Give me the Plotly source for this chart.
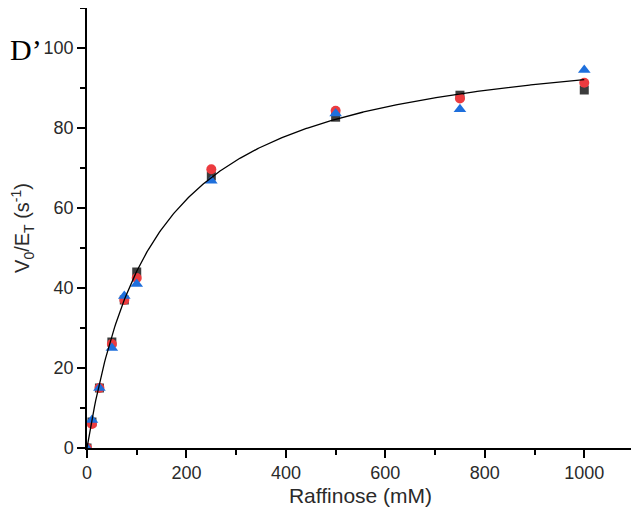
import plotly.graph_objects as go
import numpy as np

conc = [0, 10, 25, 50, 75, 100, 250, 500, 750, 1000]
rep1 = [0, 6.5, 15, 26.5, 37, 44, 68, 82.7, 88.2, 89.5]
rep2 = [0, 6, 15, 26, 37, 42.5, 69.7, 84.3, 87.4, 91.3]
rep3 = [0, 7, 15, 25, 38, 41, 66.8, 83.6, 84.7, 94.5]

vmax = 104.7
km = 137

x_ticks = [0, 200, 400, 600, 800, 1000]
y_ticks = [0, 20, 40, 60, 80, 100]

fit_x = np.linspace(0, 1000, 400)
fit_y = vmax * fit_x / (km + fit_x)

fig = go.Figure()
fig.add_trace(go.Scatter(x=conc, y=rep1, mode="markers",
                         marker=dict(symbol="square", size=9, color="#3c3c3c"), showlegend=False))
fig.add_trace(go.Scatter(x=conc, y=rep2, mode="markers",
                         marker=dict(symbol="circle", size=10, color="#ec3b3f"), showlegend=False))
fig.add_trace(go.Scatter(x=conc, y=rep3, mode="markers",
                         marker=dict(symbol="triangle-up", size=11, color="#1e6fdc"), showlegend=False))
fig.add_trace(go.Scatter(x=fit_x, y=fit_y, mode="lines",
                         line=dict(color="black", width=1.3), showlegend=False))

axis_font = dict(family="Liberation Sans, Arial", size=18, color="#2a2a2a")
fig.update_layout(
    width=639, height=519,
    margin=dict(l=79, r=13, t=0, b=79, autoexpand=False),
    paper_bgcolor="white", plot_bgcolor="white",
    font=axis_font,
    xaxis=dict(range=[0, 1100], tickvals=x_ticks, showgrid=False, zeroline=False,
               showline=True, linecolor="black", linewidth=1.5, automargin=False,
               ticks="outside", ticklen=8, tickwidth=1.5, tickcolor="black",
               minor=dict(ticks="outside", ticklen=5, tickwidth=1.5, tickcolor="black", dtick=100, tick0=0),
               title=dict(text="Raffinose (mM)", font=dict(size=21), standoff=6)),
    yaxis=dict(range=[0, 110], tickvals=y_ticks, showgrid=False, zeroline=False,
               showline=True, linecolor="black", linewidth=1.5, automargin=False,
               ticks="outside", ticklen=8, tickwidth=1.5, tickcolor="black",
               minor=dict(ticks="outside", ticklen=5, tickwidth=1.5, tickcolor="black", dtick=10, tick0=0),
               title=dict(text="V<sub>0</sub>/E<sub>T</sub> (s<sup>-1</sup>)", font=dict(size=20), standoff=10)),
)
fig.add_annotation(text="D’", xref="paper", yref="paper", x=-79 / 547, y=0.905,
                   xanchor="left", yanchor="middle", showarrow=False,
                   font=dict(family="Liberation Serif, Times New Roman", size=30, color="black"))
fig.write_html("out.html")
